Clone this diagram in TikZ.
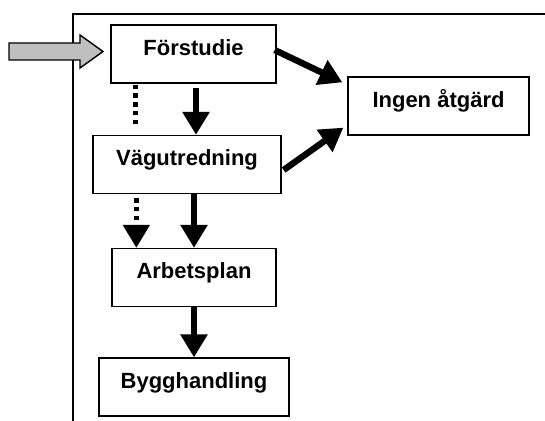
\documentclass[tikz,border=0pt]{standalone}
\usepackage{fontspec}
\setmainfont{Liberation Sans}
\usetikzlibrary{arrows.meta,calc}
\begin{document}
\begin{tikzpicture}[x=0.5pt,y=-0.5pt,
    stage/.style={draw,line width=0.65pt,font=\bfseries\fontsize{11}{13}\selectfont,
      minimum height=29pt,text height=8pt,text depth=6.5pt,inner xsep=0pt},
    flow/.style={line width=3.2pt,-{Triangle[width=13pt,length=11.5pt]}},
    dots/.style={line width=2.5pt,dash pattern=on 2.2pt off 2.2pt}]
  \useasboundingbox (0,0) rectangle (545,421);
  \draw[line width=0.7pt] (545,14) -- (73,14) -- (73,421);
  \draw[line width=0.7pt,fill=gray!50]
    (9,43) -- (80,43) -- (80,35) -- (103,51.5) -- (80,68) -- (80,60) -- (9,60) -- cycle;
  \node[stage,minimum width=82.5pt] (foer) at (193.5,54) {Förstudie};
  \node[stage,minimum width=94pt] (vag) at (187,164.5) {Vägutredning};
  \node[stage,minimum width=90.5pt] (ing) at (438.5,106) {Ingen åtgärd};
  \node[stage,minimum width=82pt] (arb) at (194,277.5) {Arbetsplan};
  \node[stage,minimum width=95pt] (byg) at (194,387) {Bygghandling};
  \begin{scope}[flow]
    \draw ($(foer.south)+(2.5,4)$) -- ($(vag.north)+(9,0)$);
    \draw (vag.south -| arb.north) -- (arb.north);
    \draw (arb.south) -- (byg.north);
    \draw ($(foer.east)+(-2,-4)$) -- ($(ing.north west)+(-5,6)$);
    \draw ($(vag.east)+(2,5.5)$) -- ($(ing.south west)+(-4,-8)$);
  \end{scope}
  \draw[dots] ($(foer.south west)+(25.5,1)$) -- ($(vag.north west)+(43.5,-8)$);
  \draw[dots,-{Triangle[width=13pt,length=11.5pt]}]
    ($(vag.south west)+(44,4)$) -- ($(arb.north west)+(25,0)$);
\end{tikzpicture}
\end{document}
